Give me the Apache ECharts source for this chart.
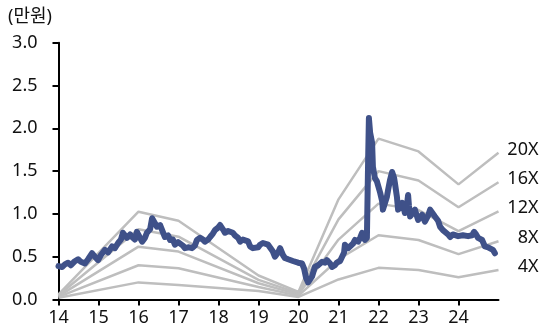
<!DOCTYPE html>
<html>
<head>
<meta charset="utf-8">
<script src="https://cdn.jsdelivr.net/npm/echarts@6/dist/echarts.min.js"></script>
<style>
  html, body { margin: 0; padding: 0; background: #fff; }
  #chart { width: 542px; height: 335px; }
</style>
</head>
<body>
<div id="chart"></div>
<script>
// Share price (만원) by year (decimal years, '14 = 2014)
const priceYears = [
  14.00, 14.09, 14.16, 14.24, 14.31, 14.39, 14.49, 14.56, 14.66, 14.74, 14.84, 14.91, 14.99,
  15.06, 15.16, 15.24, 15.34, 15.41, 15.49, 15.56, 15.61, 15.71, 15.79, 15.84, 15.91, 15.96,
  16.04, 16.09, 16.16, 16.21, 16.29, 16.34, 16.39, 16.46, 16.54, 16.59, 16.66, 16.74, 16.79, 16.86, 16.91, 16.99,
  17.04, 17.11, 17.16, 17.26, 17.34, 17.41, 17.46, 17.54, 17.61, 17.66, 17.74, 17.79, 17.86, 17.91, 17.99,
  18.04, 18.11, 18.16, 18.24, 18.29, 18.36, 18.41, 18.49, 18.54, 18.61, 18.66, 18.74, 18.79, 18.86, 18.91, 18.99,
  19.04, 19.11, 19.16, 19.24, 19.29, 19.36, 19.41, 19.49, 19.54, 19.61, 19.66, 19.74, 19.79, 19.86, 19.91, 19.99,
  20.04, 20.09, 20.14, 20.19, 20.24, 20.29, 20.34, 20.41, 20.49, 20.59, 20.66, 20.71, 20.79, 20.84, 20.91, 20.96,
  21.04, 21.09, 21.14, 21.16, 21.24, 21.29, 21.36, 21.41, 21.49, 21.54, 21.59, 21.64, 21.66, 21.71, 21.74, 21.76,
  21.79, 21.84, 21.86, 21.91, 21.96,
  22.04, 22.09, 22.11, 22.16, 22.21, 22.24, 22.29, 22.34, 22.39, 22.41, 22.46, 22.49, 22.54, 22.59, 22.64, 22.66,
  22.71, 22.74, 22.76, 22.79, 22.84, 22.91, 22.99,
  23.04, 23.09, 23.16, 23.24, 23.29, 23.34, 23.41, 23.49, 23.54, 23.61, 23.66, 23.74, 23.79, 23.86, 23.91, 23.99,
  24.04, 24.11, 24.16, 24.24, 24.29, 24.34, 24.39, 24.44, 24.49, 24.54, 24.59, 24.66, 24.74, 24.79, 24.86, 24.91
];
const priceValues = [
  0.39, 0.38, 0.41, 0.43, 0.40, 0.44, 0.47, 0.44, 0.42, 0.47, 0.54, 0.50, 0.46,
  0.52, 0.58, 0.55, 0.62, 0.60, 0.66, 0.70, 0.78, 0.72, 0.76, 0.73, 0.70, 0.79,
  0.72, 0.675, 0.72, 0.78, 0.82, 0.95, 0.93, 0.85, 0.87, 0.81, 0.73, 0.75, 0.695, 0.70, 0.64, 0.67,
  0.66, 0.63, 0.60, 0.61, 0.60, 0.63, 0.695, 0.72, 0.70, 0.675, 0.70, 0.73, 0.77, 0.81, 0.84,
  0.87, 0.82, 0.78, 0.80, 0.81, 0.78, 0.75, 0.72, 0.675, 0.70, 0.72, 0.68, 0.62, 0.60, 0.58, 0.61,
  0.64, 0.66, 0.66, 0.64, 0.62, 0.56, 0.50, 0.55, 0.60, 0.52, 0.485, 0.47, 0.46, 0.45, 0.44, 0.43,
  0.425, 0.42, 0.36, 0.25, 0.20, 0.19, 0.27, 0.38, 0.40, 0.44, 0.43, 0.46, 0.42, 0.38, 0.40, 0.43,
  0.45, 0.50, 0.55, 0.64, 0.60, 0.58, 0.65, 0.695, 0.675, 0.72, 0.78, 0.76, 0.695, 0.72, 1.60, 2.12,
  1.95, 1.83, 1.55, 1.42, 1.38,
  1.25, 1.15, 1.05, 1.05, 1.20, 1.28, 1.40, 1.49, 1.42, 1.36, 1.20, 1.05, 1.08, 1.13, 1.05, 1.01,
  1.10, 1.22, 1.10, 0.97, 1.00, 1.05, 0.93,
  0.95, 0.99, 0.91, 0.98, 1.05, 1.06, 0.97, 0.92, 0.85, 0.81, 0.79, 0.76, 0.73, 0.76, 0.75, 0.74,
  0.73, 0.75, 0.73, 0.74, 0.72, 0.75, 0.79, 0.76, 0.72, 0.70, 0.695, 0.62, 0.61, 0.60, 0.58, 0.54
];

// PER band lines (만원) at year-end anchors
const bandYears = [14, 16, 17, 19, 20, 21, 22, 23, 24, 25];
const band20x = [0.06, 1.026, 0.92, 0.28, 0.09, 1.17, 1.88, 1.73, 1.345, 1.715];
const band16x = [0.05, 0.82, 0.734, 0.23, 0.075, 0.936, 1.50, 1.39, 1.077, 1.37];
const band12x = [0.04, 0.617, 0.56, 0.19, 0.06, 0.70, 1.12, 1.045, 0.80, 1.03];
const band8x  = [0.03, 0.40, 0.364, 0.145, 0.045, 0.47, 0.75, 0.695, 0.53, 0.68];
const band4x  = [0.02, 0.20, 0.17, 0.10, 0.03, 0.234, 0.37, 0.345, 0.26, 0.345];
const bandNames = ['20X', '16X', '12X', '8X', '4X'];

// Axis ticks
const xTickValues = [14, 15, 16, 17, 18, 19, 20, 21, 22, 23, 24];
const yTickValues = [0, 0.5, 1.0, 1.5, 2.0, 2.5, 3.0];

const FONT = '"Noto Sans", "Noto Sans CJK KR", sans-serif';
const pair = (xs, ys) => xs.map((x, i) => [x, ys[i]]);

const bandSeries = [band20x, band16x, band12x, band8x, band4x].map((vals, i) => ({
  name: bandNames[i],
  type: 'line',
  data: pair(bandYears, vals),
  symbol: 'none',
  silent: true,
  z: 2,
  lineStyle: { color: '#BEBEBE', width: 2.5 },
  endLabel: {
    show: true,
    formatter: '{t|' + bandNames[i] + '}',
    distance: 4,
    offset: [0, -3],
    rich: {
      t: { width: 36, align: 'right', fontSize: 18, fontFamily: FONT, color: '#111' }
    }
  }
}));

const chart = echarts.init(document.getElementById('chart'), null, { renderer: 'canvas' });
chart.setOption({
  animation: false,
  backgroundColor: '#fff',
  title: {
    text: '(만원)',
    left: 3,
    top: 3,
    textStyle: { fontSize: 18, fontWeight: 'normal', fontFamily: FONT, color: '#111' }
  },
  grid: { left: 58.5, right: 43.5, top: 42.7, bottom: 35.5, containLabel: false },
  xAxis: {
    type: 'value',
    min: 14,
    max: 25,
    interval: 1,
    splitLine: { show: false },
    axisLine: { lineStyle: { color: '#000', width: 2 } },
    axisTick: { show: true, length: 6, customValues: xTickValues, lineStyle: { color: '#000', width: 2 } },
    axisLabel: {
      customValues: xTickValues,
      margin: 9,
      fontSize: 18,
      fontFamily: FONT,
      color: '#111',
      formatter: v => String(v)
    }
  },
  yAxis: {
    type: 'value',
    min: 0,
    max: 3,
    interval: 0.5,
    splitLine: { show: false },
    axisLine: { show: true, lineStyle: { color: '#000', width: 2 } },
    axisTick: { show: true, length: 6, customValues: yTickValues, lineStyle: { color: '#000', width: 2 } },
    axisLabel: {
      customValues: yTickValues,
      margin: 21,
      fontSize: 18,
      fontFamily: FONT,
      color: '#111',
      formatter: v => v.toFixed(1)
    }
  },
  series: bandSeries.concat([{
    name: '주가',
    type: 'line',
    data: pair(priceYears, priceValues),
    symbol: 'none',
    z: 3,
    lineStyle: { color: '#3F5189', width: 6, cap: 'round', join: 'round' }
  }])
});
</script>
</body>
</html>
